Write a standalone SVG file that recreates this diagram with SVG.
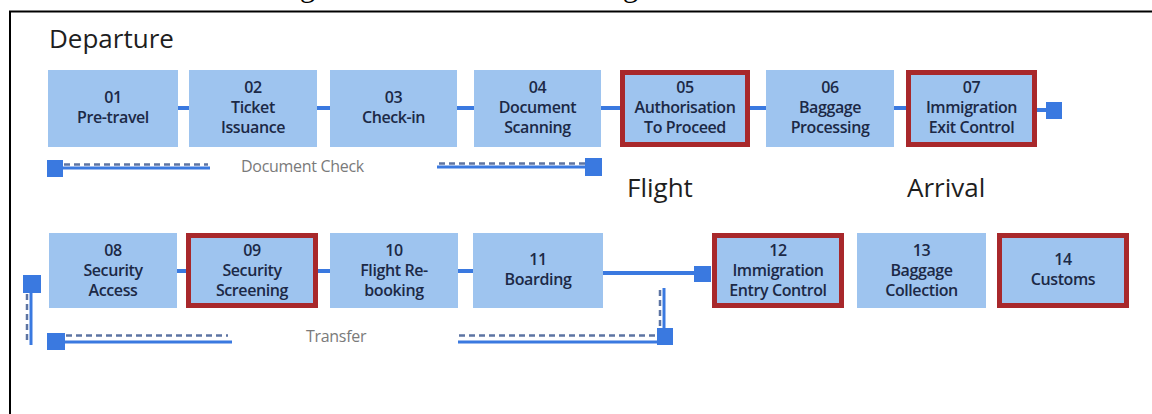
<svg xmlns="http://www.w3.org/2000/svg" width="1152" height="414" viewBox="0 0 1152 414">
<style>
.box{fill:#9ec4ef}
.red{fill:#9ec4ef;stroke:#a8282b;stroke-width:5}
.t{font-family:"Open Sans","Noto Sans",sans-serif;font-weight:600;font-size:16px;fill:#1c2946;text-anchor:middle;letter-spacing:-0.4px}
.sec{font-family:"Open Sans","Noto Sans",sans-serif;font-size:26px;fill:#1e1e1e}
.lab{font-family:"Open Sans","Noto Sans",sans-serif;font-size:16px;fill:#7a7a7a;letter-spacing:-0.3px}
.ln{stroke:#3a79e0;stroke-width:4;fill:none}
.sl{stroke:#3a79e0;stroke-width:3;fill:none}
.ds{stroke:#5d74a3;stroke-width:2.5;stroke-dasharray:6 4;fill:none}
.sq{fill:#3a79e0}
</style>
<rect width="1152" height="414" fill="#ffffff"/>
<text x="274" y="-4" font-family="Liberation Serif,serif" font-size="31" fill="#000">Figure 1: Automated Passenger Travel Process</text>
<path d="M10,414 V11.5 H1152" fill="none" stroke="#000" stroke-width="2"/>

<text class="sec" x="49" y="48">Departure</text>
<text class="sec" x="627" y="197">Flight</text>
<text class="sec" x="907" y="197">Arrival</text>

<g id="connectors">
<line class="ln" x1="178" y1="108" x2="189" y2="108"/>
<line class="ln" x1="317" y1="108" x2="330" y2="108"/>
<line class="ln" x1="457" y1="108" x2="474" y2="108"/>
<line class="ln" x1="601" y1="108" x2="620" y2="108"/>
<line class="ln" x1="750" y1="108" x2="766" y2="108"/>
<line class="ln" x1="894" y1="108" x2="906" y2="108"/>
<line class="ln" x1="1037" y1="110" x2="1047" y2="110"/>
<rect class="sq" x="1046" y="102" width="16" height="17"/>
<line class="ln" x1="177" y1="271" x2="186" y2="271"/>
<line class="ln" x1="318" y1="271" x2="330" y2="271"/>
<line class="ln" x1="458" y1="271" x2="473" y2="271"/>
<line class="ln" x1="603" y1="273" x2="696" y2="273"/>
<rect class="sq" x="694" y="266" width="17" height="16"/>
<g id="document-check">
<line class="sl" x1="63" y1="168" x2="210" y2="168"/>
<line class="ds" x1="64" y1="164.5" x2="208" y2="164.5"/>
<rect class="sq" x="47" y="160" width="16" height="17"/>
<line class="sl" x1="437" y1="167" x2="587" y2="167"/>
<line class="ds" x1="439" y1="163.5" x2="585" y2="163.5"/>
<rect class="sq" x="585" y="158" width="17" height="18"/>
</g>
<g id="transfer">
<rect class="sq" x="23" y="275" width="18" height="18"/>
<line class="sl" x1="31" y1="293" x2="31" y2="345"/>
<line class="ds" x1="27" y1="294" x2="27" y2="340"/>
<rect class="sq" x="47" y="333" width="18" height="17"/>
<line class="sl" x1="65" y1="342" x2="232" y2="342"/>
<line class="ds" x1="66" y1="335.5" x2="228" y2="335.5"/>
<line class="sl" x1="458" y1="342" x2="673" y2="342"/>
<line class="ds" x1="459" y1="335.5" x2="657" y2="335.5"/>
<line class="sl" x1="664" y1="288" x2="664" y2="342"/>
<line class="ds" x1="660" y1="290" x2="660" y2="328"/>
<rect class="sq" x="657" y="328" width="16" height="17"/>
</g>
</g>
<text class="lab" x="241" y="172" font-size="17">Document Check</text>
<text class="lab" x="306" y="342">Transfer</text>

<g id="n01"><rect class="box" x="48" y="70" width="130" height="77"/><text class="t" x="113" y="103">01</text><text class="t" x="113" y="123">Pre-travel</text></g>
<g id="n02"><rect class="box" x="189" y="70" width="128" height="77"/><text class="t" x="253" y="93">02</text><text class="t" x="253" y="113">Ticket</text><text class="t" x="253" y="133">Issuance</text></g>
<g id="n03"><rect class="box" x="330" y="70" width="127" height="77"/><text class="t" x="393.5" y="103">03</text><text class="t" x="393.5" y="123">Check-in</text></g>
<g id="n04"><rect class="box" x="474" y="70" width="127" height="77"/><text class="t" x="537.5" y="93">04</text><text class="t" x="537.5" y="113">Document</text><text class="t" x="537.5" y="133">Scanning</text></g>
<g id="n05"><rect class="red" x="622.5" y="72.5" width="125" height="72"/><text class="t" x="685" y="93">05</text><text class="t" x="685" y="113">Authorisation</text><text class="t" x="685" y="133">To Proceed</text></g>
<g id="n06"><rect class="box" x="766" y="70" width="128" height="77"/><text class="t" x="830" y="93">06</text><text class="t" x="830" y="113">Baggage</text><text class="t" x="830" y="133">Processing</text></g>
<g id="n07"><rect class="red" x="908.5" y="72.5" width="126" height="72"/><text class="t" x="971.5" y="93">07</text><text class="t" x="971.5" y="113">Immigration</text><text class="t" x="971.5" y="133">Exit Control</text></g>

<g id="n08"><rect class="box" x="49" y="233" width="128" height="75"/><text class="t" x="113" y="256">08</text><text class="t" x="113" y="276">Security</text><text class="t" x="113" y="296">Access</text></g>
<g id="n09"><rect class="red" x="188.5" y="235.5" width="127" height="70"/><text class="t" x="252" y="256">09</text><text class="t" x="252" y="276">Security</text><text class="t" x="252" y="296">Screening</text></g>
<g id="n10"><rect class="box" x="330" y="233" width="128" height="75"/><text class="t" x="394" y="256">10</text><text class="t" x="394" y="276">Flight Re-</text><text class="t" x="394" y="296">booking</text></g>
<g id="n11"><rect class="box" x="473" y="233" width="130" height="75"/><text class="t" x="538" y="265">11</text><text class="t" x="538" y="285">Boarding</text></g>
<g id="n12"><rect class="red" x="714.5" y="235.5" width="127" height="70"/><text class="t" x="778" y="256">12</text><text class="t" x="778" y="276">Immigration</text><text class="t" x="778" y="296">Entry Control</text></g>
<g id="n13"><rect class="box" x="857" y="233" width="129" height="75"/><text class="t" x="921.5" y="256">13</text><text class="t" x="921.5" y="276">Baggage</text><text class="t" x="921.5" y="296">Collection</text></g>
<g id="n14"><rect class="red" x="999.5" y="235.5" width="127" height="70"/><text class="t" x="1063" y="265">14</text><text class="t" x="1063" y="285">Customs</text></g>
</svg>
